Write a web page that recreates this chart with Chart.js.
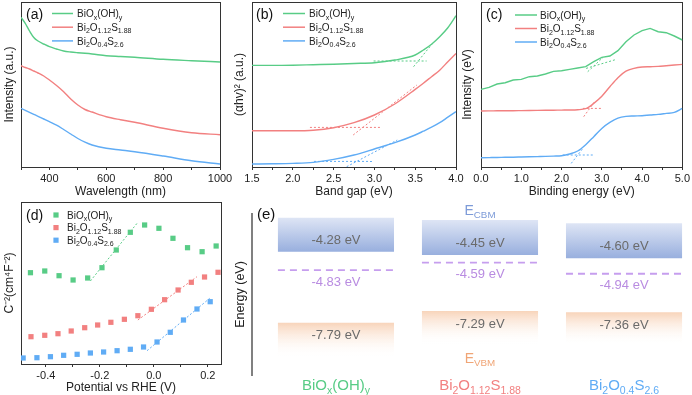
<!DOCTYPE html>
<html>
<head>
<meta charset="utf-8">
<script src="https://cdn.jsdelivr.net/npm/chart.js@4.4.1/dist/chart.umd.min.js"></script>
<style>
  body { margin: 0; background: #fff; width: 692px; height: 395px; overflow: hidden; position: relative; }
  canvas { position: absolute; }
</style>
</head>
<body>
<canvas id="chartA" width="240" height="200" style="left:0;top:0"></canvas>
<canvas id="chartB" width="240" height="200" style="left:230px;top:0"></canvas>
<canvas id="chartC" width="232" height="200" style="left:460px;top:0"></canvas>
<canvas id="chartD" width="240" height="200" style="left:0;top:195px"></canvas>
<canvas id="chartE" width="462" height="200" style="left:230px;top:195px"></canvas>
<script>
// sample names, {..} marks a subscript
const materials = ['BiO{x}(OH){y}', 'Bi{2}O{1.12}S{1.88}', 'Bi{2}O{0.4}S{2.6}'];

// (a) UV-vis absorbance (a.u.)
const wavelength = [300, 315, 330, 345, 360, 380, 400, 425, 450, 475, 500, 525, 550, 600, 650, 700, 800, 900, 1000];
const absGreen = [154.7, 148.7, 141, 134.5, 131, 128, 125.3, 123, 121, 120, 119.3, 118.7, 118, 116.3, 115.5, 114.7, 112.7, 111.3, 110];
const absRed = [106.3, 104.5, 103, 101, 99, 96, 92, 86.5, 80.3, 73, 67, 62.5, 60, 55.3, 52.3, 49.7, 43.7, 39.3, 37.3];
const absBlue = [63.7, 61.7, 59.7, 57.7, 55.7, 53, 50.3, 46.8, 42.5, 38, 33.5, 29.8, 27, 23.7, 22, 20.3, 16, 11.3, 8];

// (b) Tauc plot
const photonEnergy = [1.5, 1.75, 2.0, 2.25, 2.5, 2.75, 3.0, 3.25, 3.5, 3.6, 3.7, 3.8, 3.9, 4.0];
const taucGreen = [106.3, 106.3, 106.5, 107, 107.5, 108.2, 109, 111.7, 116.7, 121.7, 127.5, 135, 144, 156];
const taucRed = [41, 41, 41, 41.5, 44, 49, 56.7, 67.7, 82.3, 88.5, 95, 101.5, 110, 118.3];
const taucBlue = [7.7, 7.9, 8.3, 9.3, 12.3, 16.7, 22.7, 29, 36.7, 40.5, 44.5, 49, 54.5, 60];
// tangent lines [x1, y1, x2, y2]
const taucBase = [[2.99, 110.7, 3.64, 110.7], [2.21, 44.3, 3.09, 44.3], [2.26, 10.3, 2.97, 10.3]];
const taucSlope = [[3.48, 105, 3.72, 129], [2.74, 36.7, 3.52, 86.7], [2.66, 5, 3.28, 31.7]];

// (c) VB-XPS
const bindingEnergy = [0, 0.2, 0.4, 0.6, 0.8, 1.0, 1.2, 1.4, 1.6, 1.8, 2.0, 2.2, 2.4, 2.6, 2.8, 3.0, 3.2, 3.4, 3.6, 3.8, 4.0, 4.2, 4.4, 4.6, 4.8, 5.0];
const vbGreen = [78.3, 80.3, 83.7, 85, 87.7, 88.3, 91, 91.7, 93.7, 96.3, 97, 98.3, 99.7, 101, 106, 110.3, 111.7, 117, 126, 132.7, 137, 139.3, 136, 135, 131.7, 127.7];
const vbRed = [56.7, 56.8, 56.9, 57, 57, 57.1, 57.2, 57.3, 57.4, 57.5, 57.6, 57.7, 58, 59, 64.3, 71.5, 81, 90, 96.5, 99.3, 100.7, 101, 101.3, 102, 102.7, 103.3];
const vbBlue = [10, 10.1, 10.2, 10.4, 10.5, 10.7, 10.9, 11.1, 11.3, 11.6, 12, 13.7, 16.7, 23, 31, 39.3, 45.3, 49.5, 51.3, 51.7, 52, 52.7, 53.3, 54.3, 55.3, 59.3];
const vbBase = [[2.61, 99.3, 3.36, 108.3], [2.53, 59.3, 3.01, 59.3], [2.03, 12.7, 2.78, 12.7]];
const vbSlope = [[2.65, 96, 3.03, 110.3], [2.55, 51, 2.82, 66], [2.24, 4.3, 2.53, 19.3]];

// (d) Mott-Schottky
const msGreenV = [-0.457, -0.404, -0.351, -0.299, -0.245, -0.192, -0.139, -0.087, -0.034, 0.019, 0.071, 0.125, 0.179, 0.231];
const msGreen = [90.3, 92, 87.3, 83, 85, 95.3, 113, 130.7, 138, 134.7, 124.7, 115.3, 111.3, 117];
const msRedV = [-0.455, -0.404, -0.355, -0.306, -0.256, -0.208, -0.159, -0.109, -0.059, -0.009, 0.040, 0.090, 0.139, 0.188, 0.238];
const msRed = [26.3, 27.7, 29.3, 32, 35.3, 38, 40.7, 43.7, 47.3, 53.7, 63.3, 73, 80.7, 86, 90.7];
const msBlueV = [-0.484, -0.433, -0.383, -0.334, -0.284, -0.235, -0.186, -0.136, -0.087, -0.038, 0.012, 0.061, 0.110, 0.160, 0.209];
const msBlue = [5, 5.3, 6.3, 7.7, 8.7, 10, 11, 12.3, 13.7, 16, 21, 30.7, 43, 54, 61.3];
const msFit = [[-0.235, 82, -0.062, 139.7], [-0.059, 43, 0.160, 86.3], [-0.025, 12.3, 0.207, 64.7]];

// (e) band levels (eV) and where each is drawn on the schematic (0-100, not to scale)
const cbmEnergy = [-4.28, -4.45, -4.60];
const fermiEnergy = [-4.83, -4.59, -4.94];
const vbmEnergy = [-7.79, -7.29, -7.36];
const cbmTop = [97.7, 96.3, 94.2];
const cbmBottom = [76.6, 74.5, 72.5];
const fermiDrawn = [65.2, 69.8, 62.9];
const vbmTop = [32.5, 39.8, 38.9];
const vbmBottom = [10.6, 18.6, 18.6];

const FONT = '"Liberation Sans", Arial, Helvetica, sans-serif';
const COLORS = ['rgb(88,204,134)', 'rgb(242,128,128)', 'rgb(96,172,245)'];
const INK = '#222';

Chart.defaults.font.family = FONT;
Chart.defaults.color = INK;
Chart.defaults.animation = false;
Chart.defaults.responsive = false;
Chart.defaults.plugins.legend.display = false;
Chart.defaults.plugins.tooltip.enabled = false;

// text with subscripts, y is the vertical centre
function drawRich(ctx, label, x, y, size, color, align) {
  const runs = [];
  label.replace(/\{([^}]*)\}|[^{]+/g, (m, sub) => { runs.push(sub === undefined ? [m, false] : [sub, true]); return m; });
  const subSize = size * 0.7;
  ctx.save();
  ctx.fillStyle = color;
  ctx.textAlign = 'left';
  ctx.textBaseline = 'alphabetic';
  const widths = runs.map(([t, s]) => { ctx.font = `${s ? subSize : size}px ${FONT}`; return ctx.measureText(t).width; });
  let cx = align === 'center' ? x - widths.reduce((a, b) => a + b, 0) / 2 : x;
  const base = y + size * 0.36;
  runs.forEach(([t, s], k) => {
    ctx.font = `${s ? subSize : size}px ${FONT}`;
    ctx.fillText(t, cx, s ? base + size * 0.24 : base);
    cx += widths[k];
  });
  ctx.restore();
}

function drawTag(ctx, tag, x, y, size) {
  ctx.save();
  ctx.font = `${size}px ${FONT}`;
  ctx.fillStyle = '#111';
  ctx.textBaseline = 'middle';
  ctx.fillText(tag, x, y);
  ctx.restore();
}

Chart.register({
  id: 'decor',
  afterDraw(chart, args, o) {
    if (!o.tag) return;
    const ctx = chart.ctx;
    drawTag(ctx, o.tag, o.tagX, o.tagY, 14);
    materials.forEach((name, i) => {
      const y = o.legY + i * o.legDy;
      ctx.save();
      if (o.marker) {
        ctx.fillStyle = COLORS[i];
        ctx.fillRect(o.legX - 2.6, y - 2.6, 5.2, 5.2);
      } else {
        ctx.strokeStyle = COLORS[i];
        ctx.lineWidth = 1.5;
        ctx.beginPath();
        ctx.moveTo(o.legX, y);
        ctx.lineTo(o.legX + o.legLen, y);
        ctx.stroke();
      }
      ctx.restore();
      drawRich(ctx, name, o.textX, y, 10, INK);
    });
  }
});

const curve = (xs, ys, i, tension) => ({
  data: xs.map((x, k) => ({ x, y: ys[k] })),
  borderColor: COLORS[i], borderWidth: 1.4, pointRadius: 0,
  tension: tension, cubicInterpolationMode: tension ? 'monotone' : 'default'
});
const dashed = (seg, i) => ({
  data: [{ x: seg[0], y: seg[1] }, { x: seg[2], y: seg[3] }],
  borderColor: COLORS[i], borderWidth: 1, borderDash: [2, 2], pointRadius: 0
});
const dots = (xs, ys, i) => ({
  data: xs.map((x, k) => ({ x, y: ys[k] })),
  showLine: false, pointStyle: 'rect', pointRadius: 3.7, pointBorderWidth: 0,
  pointBackgroundColor: COLORS[i], borderColor: COLORS[i]
});

function frameChart(id, box, xAxis, yAxis, datasets, decor) {
  const canvas = document.getElementById(id);
  const W = canvas.width, H = canvas.height;
  const edge = { display: true, type: 'linear', ticks: { display: false }, grid: { display: false }, border: { color: '#333', width: 1 } };
  return new Chart(canvas, {
    type: 'line',
    data: { datasets },
    options: {
      layout: { padding: { left: 0, top: box.top, right: W - box.right, bottom: 0 } },
      scales: {
        x: {
          type: 'linear', min: xAxis.min, max: xAxis.max,
          ticks: { stepSize: xAxis.step, callback: xAxis.label, autoSkip: false, maxRotation: 0, includeBounds: false, padding: 2, font: { size: 11 }, color: INK },
          grid: { drawOnChartArea: false, tickLength: 3, tickColor: '#333' },
          border: { color: '#333', width: 1 },
          title: { display: true, text: xAxis.title, font: { size: 12 }, color: INK, padding: { top: 0, bottom: xAxis.titlePad } },
          afterFit: s => { s.height = H - box.bottom; }
        },
        y: {
          type: 'linear', min: yAxis.min, max: yAxis.max,
          ticks: { display: false }, grid: { display: false },
          border: { color: '#333', width: 1 },
          title: { display: true, text: yAxis.title, font: { size: 12 }, color: INK, padding: { top: yAxis.titleX - 7.2, bottom: 0 } },
          afterFit: s => { s.width = box.left; }
        },
        xTop: Object.assign({}, edge, { axis: 'x', position: 'top', afterFit: s => { s.height = 0; } }),
        yRight: Object.assign({}, edge, { axis: 'y', position: 'right', afterFit: s => { s.width = 0; } })
      },
      plugins: { decor }
    }
  });
}

const every = (n, digits) => v => (Math.abs(Math.round(v / n) * n - v) < 1e-6 ? v.toFixed(digits) : '');

// (a)
frameChart('chartA', { left: 21, right: 220, top: 2, bottom: 167 },
  { min: 300, max: 1000, step: 100, label: every(200, 0), title: 'Wavelength (nm)', titlePad: 0.8 },
  { min: 5, max: 170, title: 'Intensity (a.u.)', titleX: 9.3 },
  [curve(wavelength, absGreen, 0, 0.4), curve(wavelength, absRed, 1, 0.4), curve(wavelength, absBlue, 2, 0.4)],
  { tag: '(a)', tagX: 26, tagY: 15, legX: 52, legLen: 21, legY: 13.5, legDy: 13.7, textX: 77 });

// (b)
frameChart('chartB', { left: 22, right: 226, top: 2, bottom: 167 },
  { min: 1.5, max: 4.0, step: 0.25, label: every(0.5, 1), title: 'Band gap (eV)', titlePad: 0.8 },
  { min: 4.7, max: 169.7, title: '(\u03b1hv)\u00b2 (a.u.)', titleX: 10 },
  [curve(photonEnergy, taucGreen, 0, 0.4), curve(photonEnergy, taucRed, 1, 0.4), curve(photonEnergy, taucBlue, 2, 0.4)]
    .concat(taucBase.map(dashed), taucSlope.map(dashed)),
  { tag: '(b)', tagX: 26, tagY: 15, legX: 53, legLen: 22, legY: 13.5, legDy: 13.7, textX: 79 });

// (c)
frameChart('chartC', { left: 21, right: 223, top: 2, bottom: 167 },
  { min: 0, max: 5, step: 0.5, label: every(1, 1), title: 'Binding energy (eV)', titlePad: 0.8 },
  { min: 0.7, max: 165.7, title: 'Intensity (eV)', titleX: 8 },
  [curve(bindingEnergy, vbGreen, 0, 0), curve(bindingEnergy, vbRed, 1, 0.3), curve(bindingEnergy, vbBlue, 2, 0.3)]
    .concat(vbBase.map(dashed), vbSlope.map(dashed)),
  { tag: '(c)', tagX: 26, tagY: 15, legX: 55, legLen: 22, legY: 15, legDy: 13.5, textX: 80 });

// (d)
frameChart('chartD', { left: 21, right: 221, top: 7, bottom: 169 },
  { min: -0.492, max: 0.249, step: 0.1, label: every(0.2, 1), title: 'Potential vs RHE (V)', titlePad: 0 },
  { min: -1, max: 161, title: 'C\u207b\u00b2(cm\u2074F\u207b\u00b2)', titleX: 10 },
  [dots(msGreenV, msGreen, 0), dots(msRedV, msRed, 1), dots(msBlueV, msBlue, 2)].concat(msFit.map(dashed)),
  { tag: '(d)', tagX: 26, tagY: 21, marker: true, legX: 56, legY: 20, legDy: 12.6, textX: 67 });

// (e) band alignment
const BAND_HALF = 0.403;
function bandFill(top, bottom) {
  return ctx => {
    const { chart, raw } = ctx;
    if (!raw || !chart.chartArea) return top;
    const ys = chart.scales.y;
    const g = chart.ctx.createLinearGradient(0, ys.getPixelForValue(raw.y[1]), 0, ys.getPixelForValue(raw.y[0]));
    g.addColorStop(0, top);
    g.addColorStop(1, bottom);
    return g;
  };
}
const fermiPts = [];
fermiDrawn.forEach((f, i) => { fermiPts.push({ x: i - BAND_HALF, y: f }, { x: i + BAND_HALF, y: f }, { x: i + 0.5, y: null }); });

new Chart(document.getElementById('chartE'), {
  type: 'bar',
  data: {
    datasets: [
      { data: cbmTop.map((t, i) => ({ x: i, y: [cbmBottom[i], t] })), backgroundColor: bandFill('rgb(222,229,245)', 'rgb(152,175,222)'),
        grouped: false, categoryPercentage: 1, barPercentage: 2 * BAND_HALF, borderWidth: 0 },
      { data: vbmTop.map((t, i) => ({ x: i, y: [vbmBottom[i], t] })), backgroundColor: bandFill('rgb(248,212,186)', 'rgba(255,255,255,0)'),
        grouped: false, categoryPercentage: 1, barPercentage: 2 * BAND_HALF, borderWidth: 0 },
      { type: 'line', data: fermiPts, borderColor: 'rgb(198,158,238)', borderWidth: 1.8, borderDash: [7, 5], pointRadius: 0, spanGaps: false }
    ]
  },
  options: {
    layout: { padding: { left: 0, top: 19, right: 0, bottom: 20 } },
    scales: {
      x: { type: 'linear', min: -0.583, max: 2.472, display: false, offset: false, ticks: { stepSize: 1, includeBounds: false } },
      y: {
        type: 'linear', min: 0, max: 100,
        ticks: { display: false }, grid: { display: false },
        border: { color: '#808080', width: 2 },
        title: { display: true, text: 'Energy (eV)', font: { size: 12.5 }, color: INK, padding: { top: 3.5, bottom: 0 } },
        afterFit: s => { s.width = 22; }
      }
    }
  },
  plugins: [{
    id: 'bandLabels',
    afterDraw(chart) {
      const { ctx, scales: { x, y } } = chart;
      const eV = v => v.toFixed(2) + ' eV';
      const text = (s, px, py, color) => {
        ctx.save();
        ctx.font = `13px ${FONT}`;
        ctx.fillStyle = color;
        ctx.textAlign = 'center';
        ctx.textBaseline = 'middle';
        ctx.fillText(s, px, py);
        ctx.restore();
      };
      materials.forEach((name, i) => {
        const cx = x.getPixelForValue(i);
        text(eV(cbmEnergy[i]), cx, (y.getPixelForValue(cbmTop[i]) + y.getPixelForValue(cbmBottom[i])) / 2 + 6, '#6b6b6b');
        text(eV(fermiEnergy[i]), cx, y.getPixelForValue(fermiDrawn[i]) + 12, 'rgb(185,140,225)');
        text(eV(vbmEnergy[i]), cx, y.getPixelForValue(vbmTop[i]) + 13, '#6b6b6b');
        drawRich(ctx, name, cx, chart.height - 10, 15, COLORS[i], 'center');
      });
      const mid = x.getPixelForValue(1);
      drawRich(ctx, 'E{CBM}', mid, y.getPixelForValue(cbmTop[1]) - 10, 14, 'rgb(125,155,216)', 'center');
      drawRich(ctx, 'E{VBM}', mid, y.getPixelForValue(vbmBottom[1]) + 13, 14, 'rgb(240,165,118)', 'center');
      drawTag(ctx, '(e)', 27, 20, 15);
    }
  }]
});
</script>
</body>
</html>
